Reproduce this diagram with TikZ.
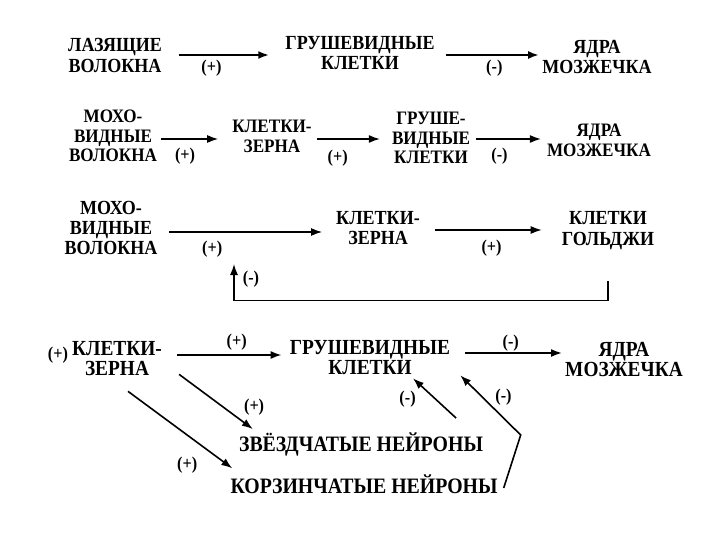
\documentclass[tikz,border=0pt]{standalone}
\usepackage{fontspec}
\setmainfont{Liberation Serif}[FakeStretch=0.9]
\usetikzlibrary{arrows.meta,positioning}

\tikzset{
  lbl/.style 2 args={font=\bfseries\fontsize{#1}{#2}\selectfont, align=center, inner sep=0pt},
  sgn/.style={font=\bfseries\fontsize{18}{18}\selectfont, inner sep=0pt},
  arr/.style={-{Latex[length=11pt,width=8pt]}, line width=1.3pt},
  arrb/.style={arr, line width=2.2pt}
}

\begin{document}
\begin{tikzpicture}[x=1pt,y=-1pt]
  \useasboundingbox (0,0) rectangle (720,540);

  % climbing fibres
  \node[lbl={20}{21}] (lw1) at (115,55) {ЛАЗЯЩИЕ\\ВОЛОКНА};
  \node[lbl={20}{20}] (gk1) at (360,53) {ГРУШЕВИДНЫЕ\\КЛЕТКИ};
  \node[lbl={20}{20}] (ym1) at (597,57) {ЯДРА\\МОЗЖЕЧКА};
  \draw[arrb] ([xshift=17]lw1.east) -- ([xshift=-16]lw1.east -| gk1.west)
    node[sgn,pos=0.36,below=4pt] (p1) {(+)};
  \draw[arrb] ([xshift=11,yshift=-2]gk1.east) -- ([xshift=-3,yshift=-2]gk1.east -| ym1.west)
    node[sgn,pos=0.52,below=4pt] (m1) {(-)};

  % mossy fibres
  \node[lbl={19}{19.5}] (mv2) at (113,136) {МОХО-\\ВИДНЫЕ\\ВОЛОКНА};
  \node[lbl={19}{20}] (kz2) at (272,136) {КЛЕТКИ-\\ЗЕРНА};
  \node[lbl={19}{19.5}] (gv2) at (431,138) {ГРУШЕ-\\ВИДНЫЕ\\КЛЕТКИ};
  \node[lbl={19}{20}] (ym2) at (599,140) {ЯДРА\\МОЗЖЕЧКА};
  \draw[arr] ([xshift=4,yshift=-3]mv2.east) -- ([xshift=-14,yshift=-3]mv2.east -| kz2.west)
    node[sgn,pos=0.42,below=8pt] (p2) {(+)};
  \draw[arr] ([xshift=5,yshift=-3]kz2.east) -- ([xshift=-12,yshift=-3]kz2.east -| gv2.west)
    node[sgn,pos=0.33,below=10pt] (p3) {(+)};
  \draw[arr] ([xshift=6,yshift=-1]gv2.east) -- ([xshift=-6,yshift=-1]gv2.east -| ym2.west)
    node[sgn,pos=0.36,below=8pt] (m2) {(-)};

  % golgi loop
  \node[lbl={20}{20}] (mv3) at (111,228) {МОХО-\\ВИДНЫЕ\\ВОЛОКНА};
  \node[lbl={20}{20}] (kz3) at (378,228) {КЛЕТКИ-\\ЗЕРНА};
  \node[lbl={20}{21}] (kg3) at (608,231) {КЛЕТКИ\\ГОЛЬДЖИ};
  \coordinate (fb) at (234,264);
  \draw[arr] ([xshift=12,yshift=-4]mv3.east) -- ([xshift=-14,yshift=-4]mv3.east -| kz3.west)
    node[sgn,pos=0.28,below=8pt] (p4) {(+)};
  \draw[arr] ([xshift=15,yshift=-2]kz3.east) -- ([xshift=-20,yshift=-2]kz3.east -| kg3.west)
    node[sgn,pos=0.53,below=9pt] (p5) {(+)};
  \draw[arr] ([yshift=-31]kg3.south) -- ++(0,19) -| (fb);
  \node[sgn] (m3) at (251,279) {(-)};

  % granule cells and interneurons
  \node[sgn] (p6) at (58,355) {(+)};
  \node[lbl={21.5}{20}] (kz4) at (117,359) {КЛЕТКИ-\\ЗЕРНА};
  \node[lbl={21.5}{20}] (gk4) at (370,358) {ГРУШЕВИДНЫЕ\\КЛЕТКИ};
  \node[lbl={21.5}{20}] (ym4) at (624,360) {ЯДРА\\МОЗЖЕЧКА};
  \node[lbl={22}{20}] (zv4) at (361,444) {ЗВЁЗДЧАТЫЕ НЕЙРОНЫ};
  \node[lbl={22}{20}] (kn4) at (364,484) {КОРЗИНЧАТЫЕ НЕЙРОНЫ};
  \draw[arr,line width=1.8pt] ([xshift=15,yshift=4]kz4.east) -- ([xshift=-8,yshift=4]kz4.east -| gk4.west)
    node[sgn,pos=0.57,above=4pt] (p7) {(+)};
  \draw[arr,line width=1.8pt] ([xshift=15,yshift=5]gk4.east) -- ([xshift=-3,yshift=5]gk4.east -| ym4.west)
    node[sgn,pos=0.47,above=1pt] (m4) {(-)};
  \draw[arr,line width=1.6pt] ([xshift=17,yshift=2]kz4.south east) -- ([xshift=14,yshift=3]zv4.north west)
    node[sgn,pos=0.8,xshift=16,yshift=11] (p8) {(+)};
  \draw[arr,line width=1.6pt] ([xshift=11,yshift=-15]kz4.south) -- ([xshift=2,yshift=6]kn4.north west)
    node[sgn,pos=0.75,xshift=-19,yshift=-16] (p9) {(+)};
  \draw[arr,line width=1.6pt] ([xshift=-27,yshift=14]zv4.north east) -- ([xshift=43,yshift=-3]gk4.south)
    node[sgn,pos=0.5,xshift=-27,yshift=-1] (m5) {(-)};
  \draw[arr,line width=1.6pt] ([xshift=6,yshift=-4]kn4.east) -- ++(17,-53) -- ([xshift=10]gk4.south east)
    node[sgn,pos=0.5,xshift=13,yshift=8] (m6) {(-)};
\end{tikzpicture}
\end{document}
